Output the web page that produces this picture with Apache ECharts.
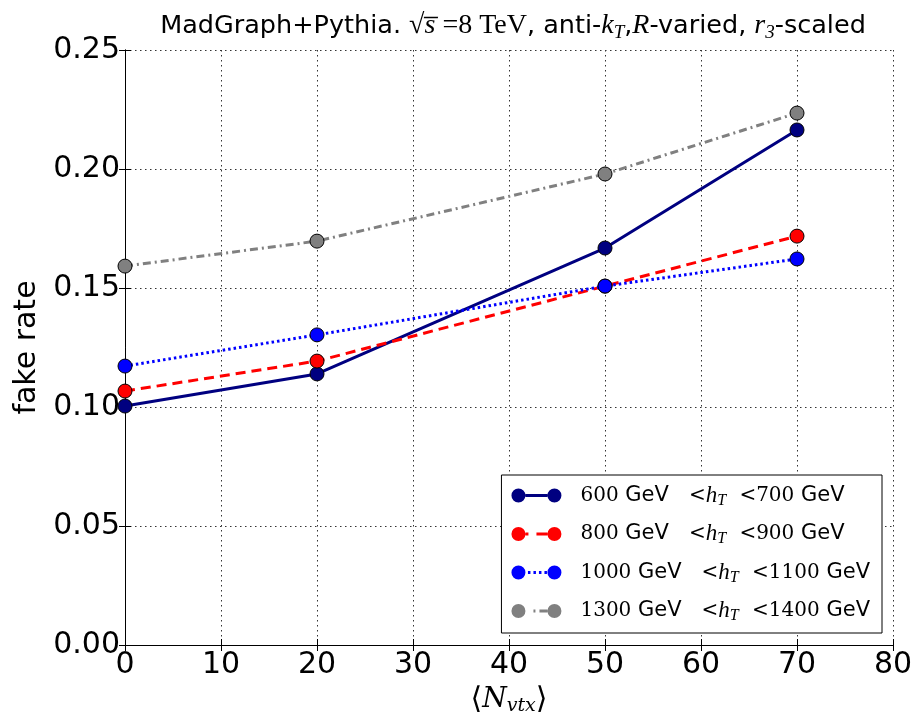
<!DOCTYPE html>
<html>
<head>
<meta charset="utf-8">
<script src="https://cdn.jsdelivr.net/npm/echarts@6/dist/echarts.min.js"></script>
<style>
  html, body { margin: 0; padding: 0; background: #fff; }
  #main { width: 919px; height: 721px; }
</style>
</head>
<body>
<div id="main"></div>
<script>
// pile-up points <N_vtx>
var nvtx = [0, 20, 50, 70];

// h_T bins
var htLow = [600, 800, 1000, 1300];
var htHigh = [700, 900, 1100, 1400];

// fake rate per bin
var rate600 = [0.1004, 0.1139, 0.1668, 0.2164];
var rate800 = [0.1067, 0.1193, 0.1508, 0.1718];
var rate1000 = [0.1172, 0.1303, 0.1508, 0.1622];
var rate1300 = [0.1592, 0.1697, 0.1979, 0.2235];

var xTicks = [0, 10, 20, 30, 40, 50, 60, 70, 80];
var yTicks = ['0.00', '0.05', '0.10', '0.15', '0.20', '0.25'];

var rates = [rate600, rate800, rate1000, rate1300];
var colors = ['#000080', '#ff0000', '#0000ff', '#808080'];
var dashes = ['solid', [10, 6], [2.5, 3], [8, 4, 2, 4]];

// legend icons: marker - line - marker (matplotlib style)
function circ(cx) {
    return 'M' + (cx - 7) + ',7 a7,7 0 1,0 14,0 a7,7 0 1,0 -14,0 Z ';
}
function seg(a, b) {
    return 'M' + a + ',5.6 L' + b + ',5.6 L' + b + ',8.4 L' + a + ',8.4 Z ';
}
var icons = [
    circ(7) + seg(14, 36) + circ(43),
    circ(7) + seg(14, 17) + seg(25, 36) + circ(43),
    circ(7) + seg(16.5, 19) + seg(22, 24.5) + seg(27.5, 30) + seg(33, 35.5) + circ(43),
    circ(7) + seg(22, 24) + seg(28, 36) + circ(43)
];

var names = htLow.map(function (lo, i) {
    return lo + ' GeV <h_T <' + htHigh[i] + ' GeV';
});

var serif = 'Liberation Serif';
var rich = {
    n: { fontFamily: serif, fontSize: 28, fontWeight: 'normal', color: '#000' },
    g: { fontFamily: 'DejaVu Sans', fontSize: 25.5, fontWeight: 'normal', color: '#000' },
    i: { fontFamily: serif, fontStyle: 'italic', fontSize: 28, fontWeight: 'normal', color: '#000' },
    s: { fontFamily: serif, fontStyle: 'italic', fontSize: 19, fontWeight: 'normal', color: '#000', padding: [13, 0, 0, 0] }
};
var legRich = {
    n: { fontFamily: 'DejaVu Serif', fontSize: 20, color: '#000' },
    g: { fontFamily: 'DejaVu Sans', fontSize: 21, color: '#000' },
    i: { fontFamily: serif, fontStyle: 'italic', fontSize: 23, color: '#000' },
    s: { fontFamily: serif, fontStyle: 'italic', fontSize: 16, color: '#000', padding: [10, 0, 0, 0] }
};

var series = rates.map(function (r, k) {
    return {
        name: names[k],
        type: 'line',
        data: nvtx.map(function (x, i) { return [x, r[i]]; }),
        symbol: 'circle',
        symbolSize: 14,
        color: colors[k],
        lineStyle: { width: 3, type: dashes[k], color: colors[k] },
        itemStyle: { color: colors[k], borderColor: '#000', borderWidth: 1 },
        z: 2 + k,
        animation: false
    };
});

var option = {
    backgroundColor: '#fff',
    title: {
        text: '{g|MadGraph+Pythia. }{n|√}{i|s̅}{n| =8 TeV}{g|, anti-}{i|k}{s|T}{g|,}{i|R}{g|-varied, }{i|r}{s|3}{g|-scaled}',
        left: 508,
        textAlign: 'center',
        top: 5,
        textStyle: { fontWeight: 'normal', rich: rich }
    },
    grid: { left: 125, right: 26, top: 50, bottom: 76 },
    legend: {
        orient: 'vertical',
        right: 37,
        top: 475,
        align: 'left',
        itemWidth: 50,
        itemHeight: 14,
        itemGap: 14,
        padding: [9, 12, 9, 10],
        borderColor: '#000',
        borderWidth: 1,
        backgroundColor: '#fff',
        itemStyle: { borderWidth: 0 },
        lineStyle: { width: 0 },
        data: names.map(function (nm, k) { return { name: nm, icon: 'path://' + icons[k] }; }),
        formatter: function (nm) {
            var k = names.indexOf(nm);
            return '{n|' + htLow[k] + '}{g| GeV   }{n|<}{i|h}{s|T}{g|  }{n|<' + htHigh[k] + '}{g| GeV}';
        },
        textStyle: { rich: legRich, padding: [0, 0, 0, 14] }
    },
    xAxis: [{
        type: 'value',
        min: 0, max: 80, interval: 10,
        name: '{b|⟨}{i|N}{s|vtx}{b|⟩}',
        nameLocation: 'middle',
        nameGap: 34,
        nameTextStyle: {
            rich: {
                b: { fontFamily: 'DejaVu Serif', fontSize: 30, color: '#000' },
                i: { fontFamily: 'DejaVu Serif', fontStyle: 'italic', fontSize: 28, color: '#000' },
                s: { fontFamily: 'DejaVu Serif', fontStyle: 'italic', fontSize: 19, color: '#000', padding: [13, 0, 0, 0] }
            }
        },
        axisLine: { show: true, lineStyle: { color: '#000', width: 1 } },
        axisTick: { show: true, inside: true, length: 6, lineStyle: { color: '#000' } },
        axisLabel: {
            margin: 5, fontFamily: 'DejaVu Sans', fontSize: 30, color: '#000',
            formatter: function (v) { return xTicks.indexOf(v) >= 0 ? String(v) : ''; }
        },
        splitLine: { show: true, lineStyle: { color: '#333', width: 1, type: [1.5, 3.5] } }
    }, {
        type: 'value', position: 'top',
        min: 0, max: 80, interval: 10,
        axisLine: { show: true, lineStyle: { color: '#000', width: 1 } },
        axisTick: { show: true, inside: true, length: 6, lineStyle: { color: '#000' } },
        axisLabel: { show: false },
        splitLine: { show: false }
    }],
    yAxis: [{
        type: 'value',
        min: 0, max: 0.25, interval: 0.05,
        name: 'fake rate',
        nameLocation: 'middle',
        nameGap: 74,
        nameTextStyle: { fontFamily: 'DejaVu Sans', fontSize: 30, color: '#000' },
        axisLine: { show: true, lineStyle: { color: '#000', width: 1 } },
        axisTick: { show: true, inside: true, length: 6, lineStyle: { color: '#000' } },
        axisLabel: {
            margin: 5, fontFamily: 'DejaVu Sans', fontSize: 30, color: '#000',
            formatter: function (v) { return yTicks[Math.round(v / 0.05)]; }
        },
        splitLine: { show: true, lineStyle: { color: '#333', width: 1, type: [1.5, 3.5] } }
    }, {
        type: 'value', position: 'right',
        min: 0, max: 0.25, interval: 0.05,
        axisLine: { show: true, lineStyle: { color: '#000', width: 1 } },
        axisTick: { show: true, inside: true, length: 6, lineStyle: { color: '#000' } },
        axisLabel: { show: false },
        splitLine: { show: false }
    }],
    series: series
};

echarts.init(document.getElementById('main')).setOption(option);
</script>
</body>
</html>
